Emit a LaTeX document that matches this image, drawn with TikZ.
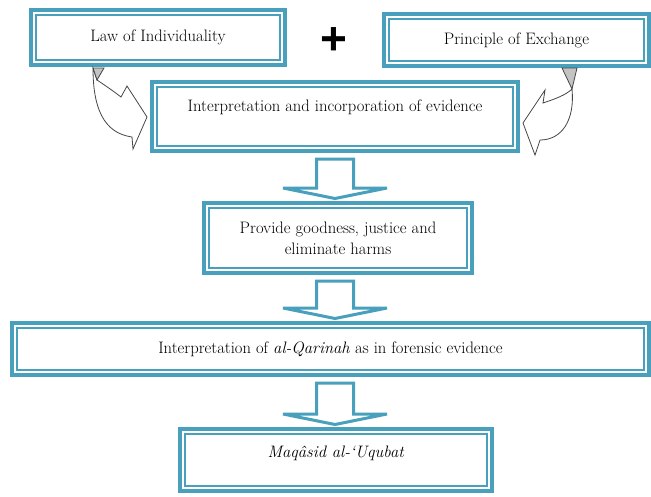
\documentclass[tikz,border=0pt]{standalone}
\usepackage{fontspec}
\newfontfamily\plusfont{Liberation Sans}
\usetikzlibrary{calc}
\definecolor{frameteal}{RGB}{72, 160, 188}
\definecolor{arrowgray}{RGB}{70, 70, 70}
\definecolor{foldgray}{RGB}{195, 195, 195}
\tikzset{
  framebox/.style={draw=frameteal, line width=4pt, fill=white, align=center, inner sep=2pt, font=\fontsize{16.6}{21}\selectfont},
  innerframe/.style={draw=frameteal, line width=1.5pt},
  blockarrow/.style={draw=frameteal, line width=3pt, fill=white, line join=miter},
  curvearrow/.style={draw=arrowgray, line width=0.8pt, fill=white, line join=miter},
  curvefold/.style={draw=arrowgray, line width=0.8pt, fill=foldgray}
}
\begin{document}
\begin{tikzpicture}[x=1pt, y=-1pt]
  \useasboundingbox (0,0) rectangle (651,496);
  % Sources
  \node[framebox, minimum width=254pt, minimum height=55pt] (law) at (158, 37.5) {Law of Individuality};
  \node[framebox, minimum width=265pt, minimum height=52pt] (prin) at (516.5, 40) {Principle of Exchange};
  \node[font=\plusfont\bfseries\fontsize{46}{46}\selectfont] (plus) at (333.5, 41) {+};

  % Main column
  \node[framebox, minimum width=366pt, minimum height=69pt, text height=12pt, text depth=23pt] (interp) at (335, 116.5) {Interpretation and incorporation of evidence};
  \node[framebox, minimum width=268pt, minimum height=70pt] (prov) at (338, 238) {Provide goodness, justice and\\eliminate harms};
  \node[framebox, minimum width=637pt, minimum height=52pt] (qar) at (330.5, 349) {Interpretation of \textit{al-Qarinah} as in forensic evidence};
  \node[framebox, minimum width=312pt, minimum height=62pt, text height=12pt, text depth=18pt] (maq) at (336, 460) {\textit{Maqâsid al-‘Uqubat}};

  \foreach \n in {law, prin, interp, prov, qar, maq}
    \draw[innerframe] ([shift={(7,7)}]\n.north west) rectangle ([shift={(-7,-7)}]\n.south east);

  % Curved arrows into the interpretation box
  \begin{scope}[shift={(law.south west)}]
    \draw[curvearrow] (64,1) .. controls (64,40) and (74,66) .. (103,70) -- (104,82) -- (118,50) -- (98,19) -- (92,30)
      .. controls (83,23) and (74,17) .. (68,13) -- cycle;
    \draw[curvefold] (64,1) -- (75,1) -- (68,13) -- cycle;
  \end{scope}
  \begin{scope}[shift={(prin.south east)}]
    \draw[curvearrow] (-79,21) .. controls (-76,52) and (-89,72) .. (-111,72) -- (-116,87) -- (-128,55) -- (-106,22) -- (-108,35)
      .. controls (-96,31) and (-85,27) .. (-79,21) -- cycle;
    \draw[curvefold] (-89,0) -- (-74,0) -- (-79,21) -- cycle;
  \end{scope}

  % Block arrows down the column
  \coordinate (axis) at (335, 0);
  \foreach \a/\b in {interp/prov, prov/qar, qar/maq} {
    \coordinate (top) at (\a.south -| axis);
    \coordinate (tip) at (\b.north -| axis);
    \draw[blockarrow] ($(top)+(-18.5,6)$) -- ($(top)+(18.5,6)$) -- ($(tip)+(18.5,-13)$) -- ($(tip)+(52,-13)$)
      -- ($(tip)+(0,-2.5)$) -- ($(tip)+(-52,-13)$) -- ($(tip)+(-18.5,-13)$) -- cycle;
  }
\end{tikzpicture}
\end{document}
